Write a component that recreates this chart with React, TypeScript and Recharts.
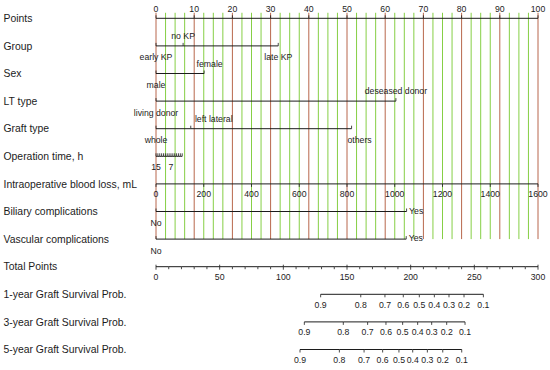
import React from "react";
import { ComposedChart, XAxis, YAxis, Scatter, ReferenceLine } from "recharts";

const FONT = '"Liberation Sans", Arial, Helvetica, sans-serif';

// ---------- data ----------
const rowLabels = [
  "Points",
  "Group",
  "Sex",
  "LT type",
  "Graft type",
  "Operation time, h",
  "Intraoperative blood loss, mL",
  "Biliary complications",
  "Vascular complications",
  "Total Points",
  "1-year Graft Survival Prob.",
  "3-year Graft Survival Prob.",
  "5-year Graft Survival Prob.",
];

const pointsTicks = [0, 10, 20, 30, 40, 50, 60, 70, 80, 90, 100];
const gridMinor = [
  2.5, 5, 7.5, 12.5, 15, 17.5, 22.5, 25, 27.5, 32.5, 35, 37.5, 42.5, 45, 47.5,
  52.5, 55, 57.5, 62.5, 65, 67.5, 72.5, 75, 77.5, 82.5, 85, 87.5, 92.5, 95, 97.5,
];

const groupLevels = ["early KP", "no KP", "late KP"];
const groupPoints = [0, 7.1, 32.0];
const sexLevels = ["male", "female"];
const sexPoints = [0, 12.6];
const ltLevels = ["living donor", "deseased donor"];
const ltPoints = [0, 62.8];
const graftLevels = ["whole", "left lateral", "others"];
const graftPoints = [0, 9.1, 51.2];

const opTimeHours = [15, 14, 13, 12, 11, 10, 9, 8, 7, 6, 5, 4, 3, 2, 1];
const opTimeShown = [15, 7];
const opTimePointsPerHour = 0.49;

const bloodLossTicks = [0, 200, 400, 600, 800, 1000, 1200, 1400, 1600];

const biliaryLevels = ["No", "Yes"];
const biliaryPoints = [0, 65.6];
const vascularLevels = ["No", "Yes"];
const vascularPoints = [0, 65.5];

const totalPointsTicks = [
  0, 10, 20, 30, 40, 50, 60, 70, 80, 90, 100, 110, 120, 130, 140, 150, 160, 170,
  180, 190, 200, 210, 220, 230, 240, 250, 260, 270, 280, 290, 300,
];
const totalPointsLabels = [0, 50, 100, 150, 200, 250, 300];

const survivalProbs = ["0.9", "0.8", "0.7", "0.6", "0.5", "0.4", "0.3", "0.2", "0.1"];
const survival1yTotal = [129.3, 160.8, 179.8, 194.2, 206.8, 218.6, 230.1, 241.9, 257.1];
const survival3yTotal = [116.5, 147.1, 166.2, 180.6, 193.7, 205.5, 216.5, 228.3, 242.7];
const survival5yTotal = [113.1, 144.0, 163.4, 178.0, 190.8, 201.6, 213.1, 225.2, 240.1];

// ---------- layout / style ----------
const RED = "#b8674c";
const GREEN = "#86cf45";
const INK = "#1c1c1c";
const SMALL = 8.7;

const levelLayout: Record<string, { pos: string; dx?: number }> = {
  "early KP": { pos: "below" },
  "no KP": { pos: "above" },
  "late KP": { pos: "below" },
  male: { pos: "below" },
  female: { pos: "above", dx: 5.5 },
  "living donor": { pos: "below" },
  "deseased donor": { pos: "above" },
  whole: { pos: "below" },
  "left lateral": { pos: "above", dx: 23 },
  others: { pos: "below", dx: 8 },
};

type Pt = { x: number; y: number; label: string; pos: string; dx: number; major?: boolean };

const catRow = (levels: string[], pts: number[], row: number, yesRight = false): Pt[] =>
  levels
    .map((l, i) => ({
      x: pts[i],
      y: row,
      label: l,
      pos: yesRight && i > 0 ? "right" : levelLayout[l]?.pos ?? "below",
      dx: levelLayout[l]?.dx ?? 0,
    }))
    .sort((a, b) => a.x - b.x);

const pointsRow: Pt[] = pointsTicks.map((t) => ({ x: t, y: 0, label: String(t), pos: "above", dx: 0 }));
const groupRow = catRow(groupLevels, groupPoints, 1);
const sexRow = catRow(sexLevels, sexPoints, 2);
const ltRow = catRow(ltLevels, ltPoints, 3);
const graftRow = catRow(graftLevels, graftPoints, 4);
const opRow: Pt[] = opTimeHours.map((h) => ({
  x: h,
  y: 5,
  label: opTimeShown.includes(h) ? String(h) : "",
  pos: "below",
  dx: 0,
}));
const bloodRow: Pt[] = bloodLossTicks.map((b) => ({ x: b, y: 6, label: String(b), pos: "below", dx: 0 }));
const biliaryRow = catRow(biliaryLevels, biliaryPoints, 7, true);
const vascularRow = catRow(vascularLevels, vascularPoints, 8, true);
const totalRow: Pt[] = totalPointsTicks.map((t) => ({
  x: t,
  y: 9,
  label: totalPointsLabels.includes(t) ? String(t) : "",
  pos: "below",
  dx: 0,
  major: totalPointsLabels.includes(t),
}));
const probRow = (vals: number[], row: number): Pt[] =>
  vals.map((v, i) => ({ x: v, y: row, label: survivalProbs[i], pos: "below", dx: 0 }));
const surv1Row = probRow(survival1yTotal, 10);
const surv3Row = probRow(survival3yTotal, 11);
const surv5Row = probRow(survival5yTotal, 12);

// operation-time axis: 15 h sits at 0 points
const opDomain: [number, number] = [15 - 100 / opTimePointsPerHour, 15];

const makeShape =
  (tick: "up" | "down" | "cross", len = 3) =>
  (props: any) => {
    const { cx, cy, payload } = props;
    if (cx == null || cy == null) return <g />;
    const p = payload as Pt;
    let y1 = cy;
    let y2 = tick === "up" ? cy - len : cy + len;
    if (tick === "cross") {
      y1 = cy - (p.major ? 2 : 0);
      y2 = cy + (p.major ? 3 : 2.5);
    }
    let tx = cx + (p.dx || 0);
    let ty = cy;
    let anchor: "middle" | "start" = "middle";
    if (p.pos === "above") ty = p.y === 0 ? cy - 9.5 : cy - 10;
    else if (p.pos === "below") ty = p.y <= 8 && p.y !== 5 && p.y !== 6 ? cy + 11.5 : cy + 10.3;
    else if (p.pos === "right") {
      tx = cx + 2.5;
      ty = cy - 1;
      anchor = "start";
    }
    return (
      <g>
        <line x1={cx} x2={cx} y1={y1} y2={y2} stroke={INK} strokeWidth={0.8} />
        {p.label ? (
          <text
            x={tx}
            y={ty}
            dy="0.35em"
            textAnchor={anchor}
            fontSize={SMALL}
            fontFamily={FONT}
            fill={INK}
          >
            {p.label}
          </text>
        ) : null}
      </g>
    );
  };

const RowLabel = (props: any) => {
  const { y, payload } = props;
  return (
    <text x={3.5} y={y} dy="0.35em" textAnchor="start" fontSize={10.4} fontFamily={FONT} fill={INK}>
      {rowLabels[payload.value]}
    </text>
  );
};

const lineStyle = { stroke: INK, strokeWidth: 1 };

export default function App() {
  const rows: { data: Pt[]; axis: string; tick: "up" | "down" | "cross"; key: string }[] = [
    { data: pointsRow, axis: "pts", tick: "up", key: "points" },
    { data: groupRow, axis: "pts", tick: "up", key: "group" },
    { data: sexRow, axis: "pts", tick: "up", key: "sex" },
    { data: ltRow, axis: "pts", tick: "up", key: "lt" },
    { data: graftRow, axis: "pts", tick: "up", key: "graft" },
    { data: opRow, axis: "op", tick: "up", key: "op" },
    { data: bloodRow, axis: "bl", tick: "down", key: "blood" },
    { data: biliaryRow, axis: "pts", tick: "up", key: "biliary" },
    { data: vascularRow, axis: "pts", tick: "up", key: "vascular" },
    { data: totalRow, axis: "tp", tick: "cross", key: "total" },
    { data: surv1Row, axis: "tp", tick: "down", key: "s1" },
    { data: surv3Row, axis: "tp", tick: "down", key: "s3" },
    { data: surv5Row, axis: "tp", tick: "down", key: "s5" },
  ];
  return (
    <div style={{ position: "absolute", left: 0, top: 0, width: 550, height: 370, background: "#fff" }}>
      <ComposedChart
        width={550}
        height={370}
        margin={{ top: 18.3, right: 12, bottom: 20.5, left: 0 }}
        style={{ overflow: "visible" }}
      >
        <XAxis xAxisId="pts" type="number" dataKey="x" domain={[0, 100]} hide />
        <XAxis xAxisId="op" type="number" dataKey="x" domain={opDomain} reversed hide />
        <XAxis xAxisId="bl" type="number" dataKey="x" domain={[0, 1600]} hide />
        <XAxis xAxisId="tp" type="number" dataKey="x" domain={[0, 300]} hide />
        <YAxis
          type="number"
          dataKey="y"
          domain={[0, 12]}
          reversed
          ticks={[0, 1, 2, 3, 4, 5, 6, 7, 8, 9, 10, 11, 12]}
          interval={0}
          width={156}
          axisLine={false}
          tickLine={false}
          tick={<RowLabel />}
        />
        {gridMinor.map((g) => (
          <ReferenceLine
            key={"gm" + g}
            xAxisId="pts"
            segment={[
              { x: g, y: -0.2 },
              { x: g, y: 8 },
            ]}
            stroke={GREEN}
            strokeWidth={1}
            ifOverflow="visible"
          />
        ))}
        {pointsTicks.map((g) => (
          <ReferenceLine
            key={"gr" + g}
            xAxisId="pts"
            segment={[
              { x: g, y: -0.2 },
              { x: g, y: 8 },
            ]}
            stroke={RED}
            strokeWidth={1}
            ifOverflow="visible"
          />
        ))}
        {rows.map((r) => (
          <Scatter
            key={r.key}
            data={r.data}
            xAxisId={r.axis}
            dataKey="y"
            line={lineStyle}
            lineType="joint"
            shape={makeShape(r.tick)}
            isAnimationActive={false}
          />
        ))}
      </ComposedChart>
    </div>
  );
}
